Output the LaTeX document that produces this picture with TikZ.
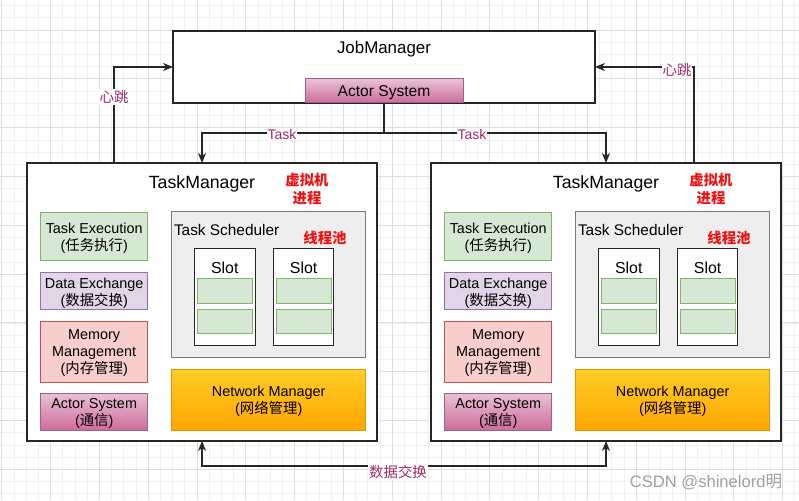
\documentclass[tikz,border=0pt]{standalone}
\usepackage{fontspec}
\setmainfont{Liberation Sans}
\newfontfamily\cjk{Noto Sans CJK SC}
\usetikzlibrary{arrows.meta,calc}

\definecolor{gridminor}{HTML}{F1F1F1}
\definecolor{gridmajor}{HTML}{DDDDDD}
\definecolor{lblc}{HTML}{9C2A6A}
\definecolor{tefill}{HTML}{D5E8D4}\definecolor{tedraw}{HTML}{82B366}
\definecolor{defill}{HTML}{E1D5E7}\definecolor{dedraw}{HTML}{9673A6}
\definecolor{mmfill}{HTML}{F8CECC}\definecolor{mmdraw}{HTML}{B85450}
\definecolor{astop}{HTML}{E8C2D6}\definecolor{asbot}{HTML}{CF6A9C}\definecolor{asdraw}{HTML}{996185}
\definecolor{nmtop}{HTML}{FFCD28}\definecolor{nmbot}{HTML}{FFA500}\definecolor{nmdraw}{HTML}{D79B00}
\definecolor{tsfill}{HTML}{EEEEEE}\definecolor{tsdraw}{HTML}{7A7A7A}
\definecolor{redtxt}{HTML}{EE1111}
\definecolor{wmtxt}{HTML}{A0A0A0}

\tikzset{
  every node/.style={inner sep=0pt, outer sep=0pt},
  frame/.style={draw=black!85, line width=1.2pt, fill=white},
  part/.style={line width=1pt},
  boxtext/.style={align=center, font=\fontsize{14.4}{17}\selectfont},
  tebox/.style={part, draw=tedraw, fill=tefill},
  debox/.style={part, draw=dedraw, fill=defill},
  mmbox/.style={part, draw=mmdraw, fill=mmfill},
  asbox/.style={part, draw=asdraw, top color=astop, bottom color=asbot},
  nmbox/.style={part, draw=nmdraw, top color=nmtop, bottom color=nmbot},
  tsbox/.style={draw=tsdraw, line width=1.2pt, fill=tsfill},
  slotbox/.style={draw=black!85, line width=1.2pt, fill=white},
  cellbox/.style={draw=tedraw, line width=1pt, fill=tefill},
  conn/.style={line width=1.2pt, draw=black!85},
  arr/.style={conn, -{Stealth[length=10pt,width=8pt,inset=3pt]}},
  lbl/.style={fill=white, text=lblc, inner sep=1pt, font=\cjk\fontsize{14.4}{17}\selectfont},
  tasklbl/.style={fill=white, text=lblc, inner sep=1pt, font=\fontsize{14}{17}\selectfont},
  redlbl/.style={text=redtxt, align=center, font=\cjk\bfseries\fontsize{14.4}{17.5}\selectfont},
}

\begin{document}
\begin{tikzpicture}[x=1pt,y=-1pt]
\useasboundingbox (0,0) rectangle (799,500);
\fill[white] (0,0) rectangle (799,500);

% background grid
\foreach \i in {0,...,66}{
  \draw[gridminor, line width=0.6pt] ({1.7+\i*12.2},0) -- ({1.7+\i*12.2},500);
}
\foreach \i in {0,...,41}{
  \draw[gridminor, line width=0.6pt] (0,{5.6+\i*12.2}) -- (799,{5.6+\i*12.2});
}
\foreach \i in {0,...,16}{
  \draw[gridmajor, line width=0.8pt] ({1.7+\i*48.8},0) -- ({1.7+\i*48.8},500);
}
\foreach \i in {0,...,10}{
  \draw[gridmajor, line width=0.8pt] (0,{30+\i*48.8-48.8}) -- (799,{30+\i*48.8-48.8});
}

% JobManager
\node[frame, minimum width=422pt, minimum height=72pt] (jm) at (384,67) {};
\node[font=\fontsize{16.9}{20}\selectfont] (jmt) at (384,49.5) {JobManager};
\node[asbox, minimum width=158pt, minimum height=24pt] (jmas) at (384,91) {};
\node[font=\fontsize{15.6}{18}\selectfont] (jmast) at (384,92.5) {Actor System};

% the two TaskManagers
\foreach \p/\dx in {L/0,R/404}{
  \node[frame, minimum width=350pt, minimum height=278pt] (tm\p) at ({202+\dx},302) {};
  \node[font=\fontsize{17.7}{20}\selectfont] (tmt\p) at ({202+\dx},183.5) {TaskManager};
  \node[redlbl] (vm\p) at ({307+\dx},189) {虚拟机\\进程};

  \node[tebox, minimum width=107pt, minimum height=48.7pt] (te\p) at ({94.2+\dx},236.4) {};
  \node[boxtext] (tet\p) at ([yshift=-2pt]te\p.center) {Task Execution\\({\cjk 任务执行})};
  \node[debox, minimum width=107pt, minimum height=36.6pt] (de\p) at ({94.2+\dx},291) {};
  \node[boxtext] (det\p) at ([yshift=-2pt]de\p.center) {Data Exchange\\({\cjk 数据交换})};
  \node[mmbox, minimum width=107pt, minimum height=61pt] (mm\p) at ({94.2+\dx},351.5) {};
  \node[boxtext] (mmt\p) at ([yshift=-2pt]mm\p.center) {Memory\\Management\\({\cjk 内存管理})};
  \node[asbox, minimum width=107pt, minimum height=37.7pt] (as\p) at ({94.2+\dx},411.9) {};
  \node[boxtext] (ast\p) at ([yshift=-2pt]as\p.center) {Actor System\\({\cjk 通信})};

  \node[tsbox, minimum width=194pt, minimum height=146pt] (ts\p) at ({268.7+\dx},284.7) {};
  \node[anchor=west, font=\fontsize{15.4}{18}\selectfont] (tst\p) at ({174+\dx},229.5) {Task Scheduler};
  \node[redlbl] (tp\p) at ({325+\dx},238) {线程池};

  \node[slotbox, minimum width=61pt, minimum height=97pt] (sa\p) at ({224.8+\dx},296.8) {};
  \node[font=\fontsize{15.9}{18}\selectfont] (sat\p) at ({224.8+\dx},267.5) {Slot};
  \node[cellbox, minimum width=55pt, minimum height=25pt] (saa\p) at ({225.2+\dx},290.8) {};
  \node[cellbox, minimum width=55pt, minimum height=24.5pt] (sab\p) at ({225.2+\dx},321.4) {};

  \node[slotbox, minimum width=60.4pt, minimum height=97pt] (sb\p) at ({303.6+\dx},296.8) {};
  \node[font=\fontsize{15.9}{18}\selectfont] (sbt\p) at ({303.6+\dx},267.5) {Slot};
  \node[cellbox, minimum width=55pt, minimum height=25pt] (sba\p) at ({304.2+\dx},290.8) {};
  \node[cellbox, minimum width=55pt, minimum height=24.5pt] (sbb\p) at ({304.2+\dx},321.4) {};

  \node[nmbox, minimum width=194pt, minimum height=60.7pt] (nm\p) at ({268.7+\dx},399.7) {};
  \node[boxtext] (nmt\p) at ([yshift=-2pt]nm\p.center) {Network Manager\\({\cjk 网络管理})};
}

% task dispatch from the JobManager
\coordinate (split) at (384,133);
\draw[arr] (jmas.south) -- (split) -| (tmL.north);
\draw[arr] (split) -| (tmR.north);
\node[tasklbl] (taskL) at (282,134) {Task};
\node[tasklbl] (taskR) at (472,134) {Task};

% heartbeats
\coordinate (hbL) at (114,163);
\coordinate (hbR) at (694,163);
\draw[arr] (hbL) |- (jm.west);
\draw[arr] (hbR) |- (jm.east);
\node[lbl] (hbtL) at (114,97) {心跳};
\node[lbl] (hbtR) at (677,70) {心跳};

% data exchange between the TaskManagers
\draw[conn, {Stealth[length=10pt,width=8pt,inset=3pt]}-{Stealth[length=10pt,width=8pt,inset=3pt]}] (tmL.south) -- ++(0,25) -| (tmR.south);
\node[lbl] (dx) at (398,472) {数据交换};

\node[text=wmtxt, font=\fontsize{16.6}{19}\selectfont] (wm) at (706,482) {CSDN @shinelord{\cjk 明}};
\end{tikzpicture}
\end{document}
